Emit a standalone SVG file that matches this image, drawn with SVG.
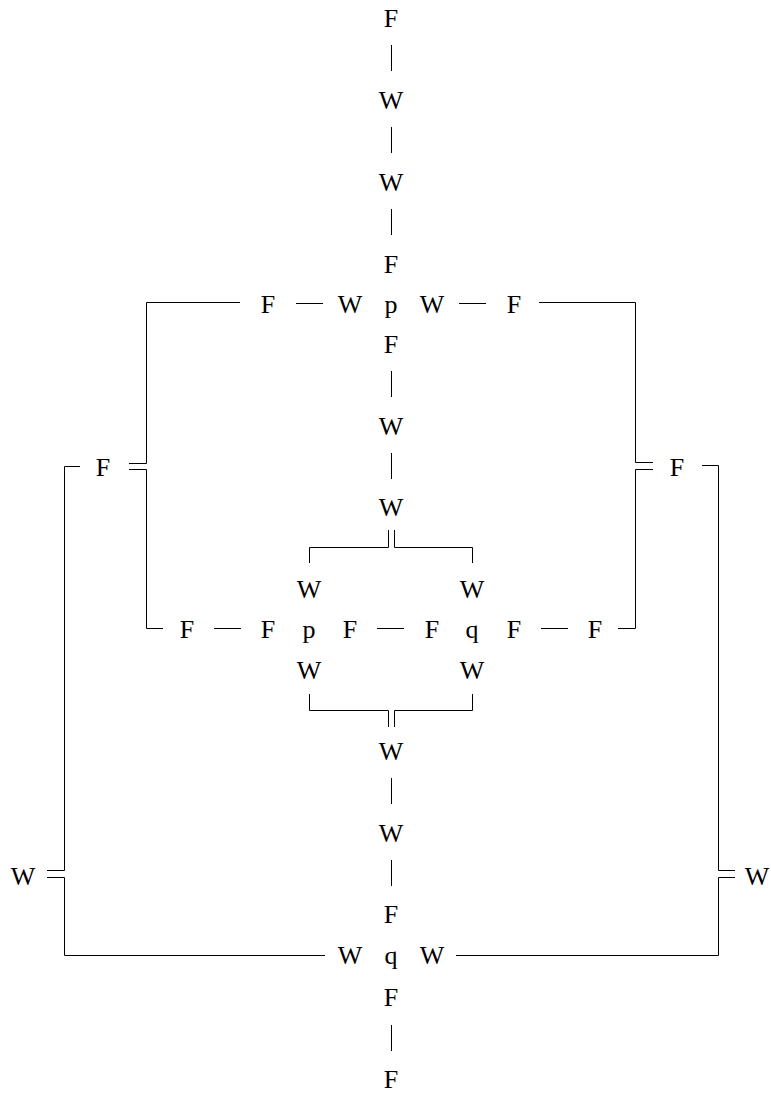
<svg xmlns="http://www.w3.org/2000/svg" width="771" height="1093" viewBox="0 0 771 1093">
<style>
.t text { font-family: "Liberation Serif", "Times New Roman", serif; font-size: 26px; text-anchor: middle; fill: #000; }
.c line, .c polyline { stroke: #000; stroke-width: 1; fill: none; }
</style>
<rect width="771" height="1093" fill="#fff"/>
<g id="nodes" class="t" font-family="Liberation Serif, serif" font-size="26">
<g id="n1"><text x="391" y="27">F</text></g>
<g id="n2"><text x="391" y="108.5">W</text></g>
<g id="n3"><text x="391" y="190.5">W</text></g>
<g id="n4"><text x="391" y="272.5">F</text></g>
<g id="r1a"><text x="268" y="312.5">F</text></g>
<g id="r1b"><text x="350" y="312.5">W</text></g>
<g id="r1c"><text x="391" y="312.5">p</text></g>
<g id="r1d"><text x="432" y="312.5">W</text></g>
<g id="r1e"><text x="514" y="312.5">F</text></g>
<g id="n5"><text x="391" y="353">F</text></g>
<g id="n6"><text x="391" y="434.5">W</text></g>
<g id="n7"><text x="391" y="516">W</text></g>
<g id="sL1"><text x="103" y="475.5">F</text></g>
<g id="sR1"><text x="677" y="475.5">F</text></g>
<g id="w1"><text x="309" y="597.5">W</text></g>
<g id="w2"><text x="472" y="597.5">W</text></g>
<g id="r2a"><text x="187" y="637.5">F</text></g>
<g id="r2b"><text x="268" y="637.5">F</text></g>
<g id="r2c"><text x="309" y="637.5">p</text></g>
<g id="r2d"><text x="350" y="637.5">F</text></g>
<g id="r2e"><text x="432" y="637.5">F</text></g>
<g id="r2f"><text x="472" y="637.5">q</text></g>
<g id="r2g"><text x="514" y="637.5">F</text></g>
<g id="r2h"><text x="595" y="637.5">F</text></g>
<g id="w3"><text x="309" y="678.5">W</text></g>
<g id="w4"><text x="472" y="678.5">W</text></g>
<g id="n8"><text x="391" y="759.5">W</text></g>
<g id="n9"><text x="391" y="841.5">W</text></g>
<g id="n10"><text x="391" y="923">F</text></g>
<g id="sL2"><text x="23" y="884.5">W</text></g>
<g id="sR2"><text x="757" y="884.5">W</text></g>
<g id="r3a"><text x="350" y="963.5">W</text></g>
<g id="r3b"><text x="391" y="963.5">q</text></g>
<g id="r3c"><text x="432" y="963.5">W</text></g>
<g id="n11"><text x="391" y="1005.5">F</text></g>
<g id="n12"><text x="391" y="1087.5">F</text></g>
</g>
<g id="connectors" class="c">
<line x1="391.5" y1="45" x2="391.5" y2="71"/>
<line x1="391.5" y1="127" x2="391.5" y2="153"/>
<line x1="391.5" y1="209" x2="391.5" y2="235"/>
<line x1="391.5" y1="371" x2="391.5" y2="397"/>
<line x1="391.5" y1="453" x2="391.5" y2="479"/>
<line x1="391.5" y1="778" x2="391.5" y2="804"/>
<line x1="391.5" y1="860" x2="391.5" y2="886"/>
<line x1="391.5" y1="1025" x2="391.5" y2="1051"/>
<line x1="296" y1="303.5" x2="323" y2="303.5"/>
<line x1="459" y1="303.5" x2="486" y2="303.5"/>
<line x1="214" y1="628.5" x2="241" y2="628.5"/>
<line x1="377" y1="628.5" x2="404" y2="628.5"/>
<line x1="541" y1="628.5" x2="568" y2="628.5"/>
<polyline points="240,302.5 146.5,302.5 146.5,463.5 129,463.5"/>
<polyline points="129,469.5 146.5,469.5 146.5,628.5 163,628.5"/>
<polyline points="539,302.5 635.5,302.5 635.5,462.5 653,462.5"/>
<polyline points="653,469.5 635.5,469.5 635.5,628.5 618,628.5"/>
<polyline points="80,466.5 64.5,466.5 64.5,870.5 47,870.5"/>
<polyline points="47,877.5 64.5,877.5 64.5,955.5 325,955.5"/>
<polyline points="702,465.5 718.5,465.5 718.5,870.5 735,870.5"/>
<polyline points="735,877.5 718.5,877.5 718.5,955.5 456,955.5"/>
<polyline points="388.5,530 388.5,547.5 309.5,547.5 309.5,563"/>
<polyline points="394.5,530 394.5,547.5 472.5,547.5 472.5,563"/>
<polyline points="309.5,694 309.5,710.5 388.5,710.5 388.5,727"/>
<polyline points="472.5,694 472.5,710.5 394.5,710.5 394.5,727"/>
</g>
</svg>
